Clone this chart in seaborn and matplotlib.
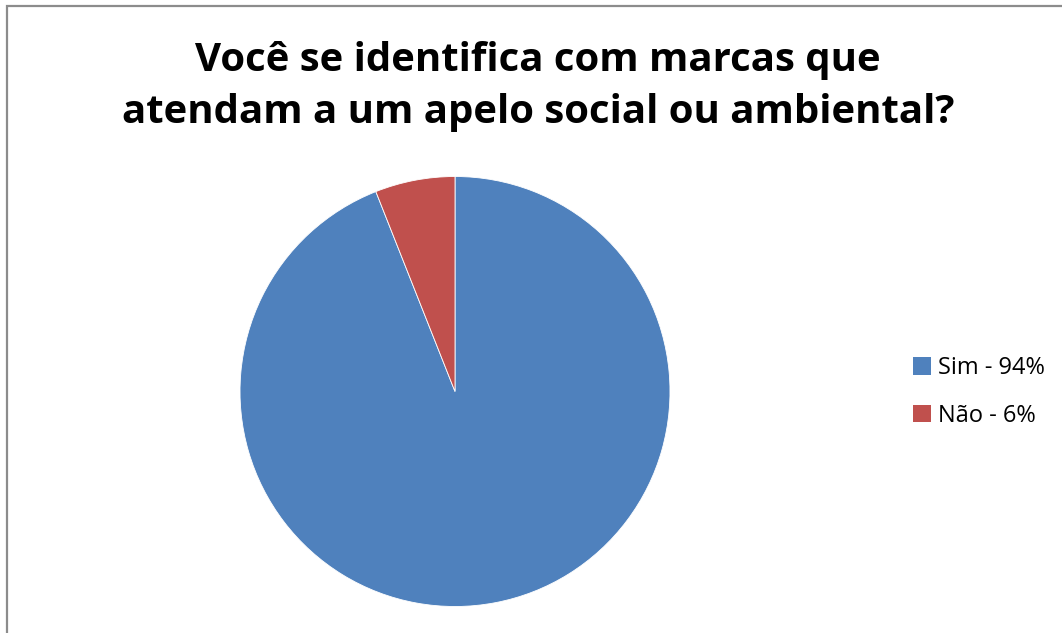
import matplotlib
matplotlib.use("Agg")
import matplotlib.pyplot as plt
import seaborn as sns
from matplotlib.patches import Rectangle, Patch

categories = ["Sim - 94%", "Não - 6%"]
values = [94, 6]
colors = ["#4F81BD", "#C0504D"]
title_lines = ["Você se identifica com marcas que", "atendam a um apelo social ou ambiental?"]

sns.set_theme(style="white")
plt.rcParams['font.family'] = ['Open Sans', 'DejaVu Sans']
plt.rcParams['text.color'] = 'black'

W, H = 1062, 633
fig = plt.figure(figsize=(W / 100, H / 100), dpi=100)
fig.patch.set_facecolor("white")

# border
fig.add_artist(Rectangle((7 / W, -0.1), 1.2, 1.1 - 6.5 / H, transform=fig.transFigure,
                         fill=False, edgecolor="#8c8c8c", linewidth=1.6))

# pie axes
cx, cy, r = 455, 391.5, 215
ax = fig.add_axes([(cx - r) / W, (H - cy - r) / H, 2 * r / W, 2 * r / H])
ax.pie(values, colors=colors, startangle=90, counterclock=False, radius=1,
       wedgeprops=dict(edgecolor="white", linewidth=0.6))
ax.set_xlim(-1, 1)
ax.set_ylim(-1, 1)
ax.set_aspect("equal")
ax.axis("off")

# title
fig.text(538 / W, 1 - 60 / H, title_lines[0], ha="center", va="center",
         fontsize=28.9, fontweight="bold", color="black")
fig.text(538 / W, 1 - 112 / H, title_lines[1], ha="center", va="center",
         fontsize=28.9, fontweight="bold", color="black")

handles = [Patch(facecolor=c, edgecolor="none") for c in colors]
fig.legend(handles, categories, loc="center left",
           bbox_to_anchor=(913 / W, 1 - 392 / H), frameon=False,
           fontsize=17, handlelength=0.78, handleheight=0.78, labelcolor="black",
           handletextpad=0.3, labelspacing=1.0, borderpad=0, borderaxespad=0)

fig.savefig("out.png", dpi=100)
